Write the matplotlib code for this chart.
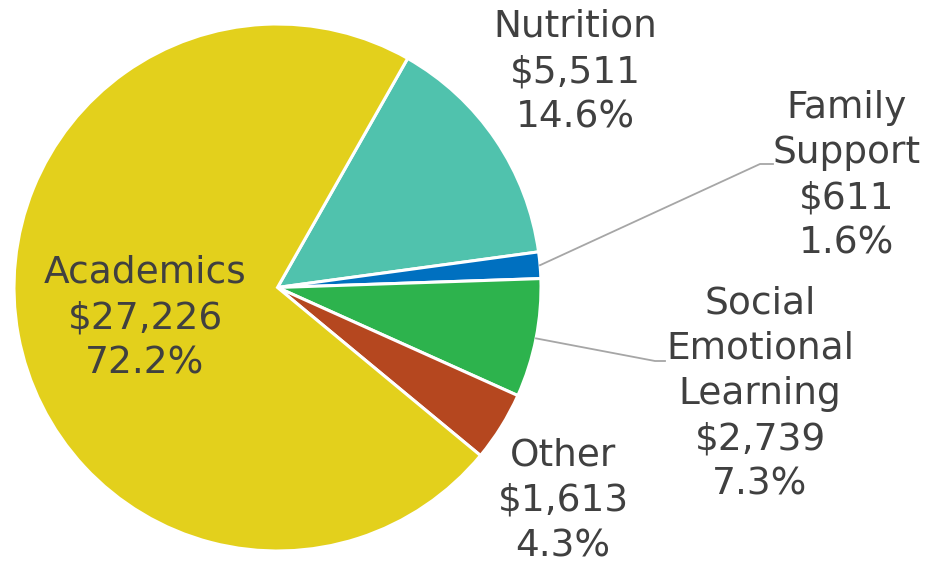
import numpy as np
import matplotlib
matplotlib.use('Agg')
import matplotlib.pyplot as plt

# data (clockwise from the Nutrition slice)
categories = ['Nutrition', 'Family\nSupport', 'Social\nEmotional\nLearning',
              'Other', 'Academics']
amounts = [5511, 611, 2739, 1613, 27226]
colors = ['#50C2AD', '#0070C0', '#2DB34D', '#B5471F', '#E3D01C']

W, H = 930, 566
fig = plt.figure(figsize=(W / 100, H / 100), dpi=100)
ax = fig.add_axes([0, 0, 1, 1])

cx, cy, r = 277.5, H - 287.5, 263.5
wedges, _ = ax.pie(amounts, colors=colors, startangle=60.4, counterclock=False,
                   center=(cx, cy), radius=r, frame=True,
                   wedgeprops=dict(edgecolor='white', linewidth=2.2))
ax.set_xlim(0, W)
ax.set_ylim(0, H)
ax.set_aspect('equal')
ax.axis('off')

# label positions (pixel coords, y from top)
label_pos = [(575, 72), (847, 176), (760, 394), (563, 501), (145, 318)]
total = float(sum(amounts))
for name, amt, (x, y) in zip(categories, amounts, label_pos):
    txt = '%s\n$%s\n%.1f%%' % (name, format(amt, ','), 100 * amt / total)
    ax.text(x, H - y, txt, ha='center', va='center', fontsize=27,
            color='#404040', linespacing=1.33)

# leader lines for the two thin slices
def leader(w, mid_pt, end_pt):
    ang = np.deg2rad((w.theta1 + w.theta2) / 2)
    x0, y0 = cx + r * np.cos(ang), cy + r * np.sin(ang)
    ax.plot([x0, mid_pt[0], end_pt[0]], [y0, H - mid_pt[1], H - end_pt[1]],
            color='#A6A6A6', linewidth=1.3)

leader(wedges[1], (760, 164), (773, 164))
leader(wedges[2], (655, 361), (665, 361))

fig.savefig('out.png', dpi=100)
